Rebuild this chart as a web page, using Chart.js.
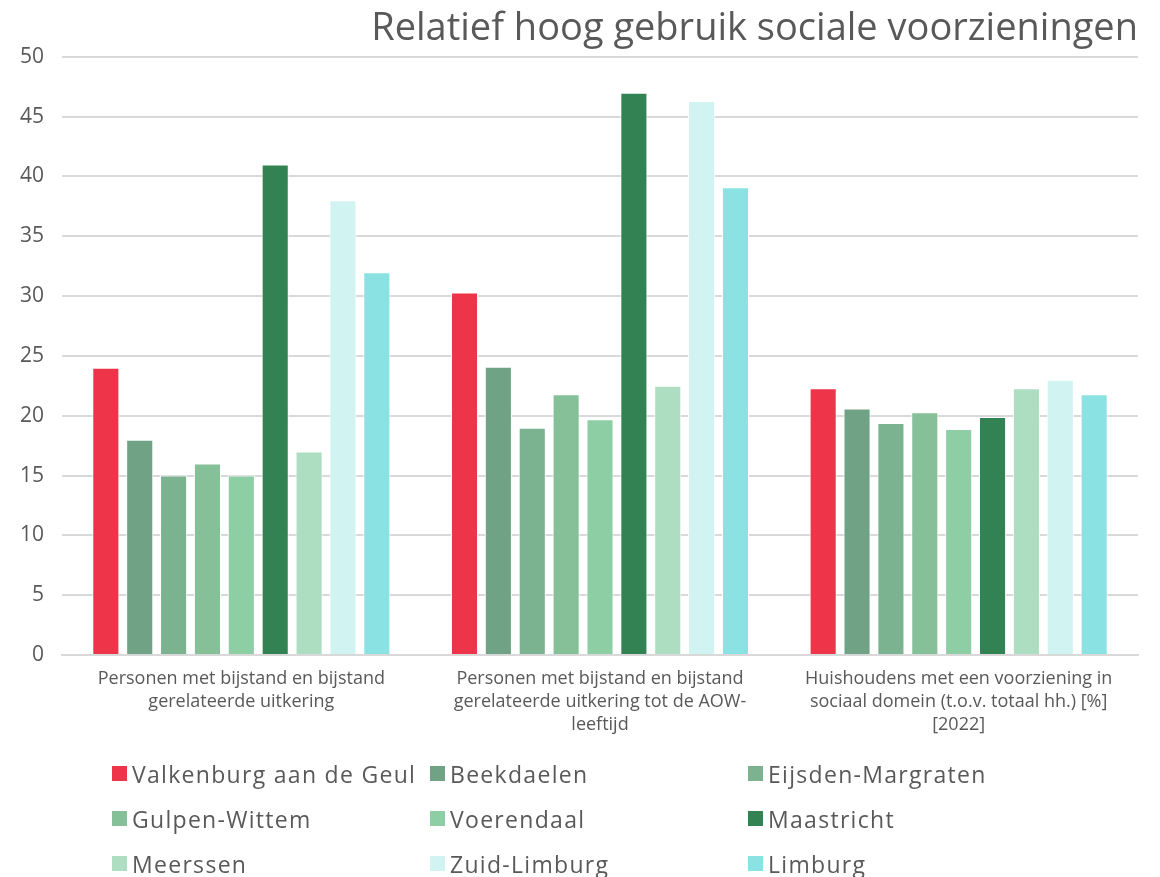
<!DOCTYPE html>
<html>
<head>
<meta charset="utf-8">
<script src="https://cdn.jsdelivr.net/npm/chart.js@4"></script>
<style>
  html, body { margin: 0; padding: 0; background: #fff; }
  #wrap { position: relative; width: 1160px; height: 877px; }
  #legend {
    position: absolute; left: 112px; top: 755px;
    display: grid; grid-template-columns: 318px 318px 318px; row-gap: 8px;
    font-family: "Open Sans", sans-serif; font-size: 23px; letter-spacing: 1.3px; color: #595959;
  }
  #legend div { display: flex; align-items: center; height: 37px; white-space: nowrap; }
  #legend span.box { display: inline-block; width: 15px; height: 15px; margin-right: 5px; }
</style>
</head>
<body>
<div id="wrap">
  <canvas id="chart" width="1160" height="877"></canvas>
  <div id="legend"></div>
</div>
<script>
const categories = [
  ['Personen met bijstand en bijstand', 'gerelateerde uitkering'],
  ['Personen met bijstand en bijstand', 'gerelateerde uitkering tot de AOW-', 'leeftijd'],
  ['Huishoudens met een voorziening in', 'sociaal domein (t.o.v. totaal hh.) [%]', '[2022]']
];
const regions = ['Valkenburg aan de Geul', 'Beekdaelen', 'Eijsden-Margraten', 'Gulpen-Wittem',
  'Voerendaal', 'Maastricht', 'Meerssen', 'Zuid-Limburg', 'Limburg'];
const colors = ['#EE3448', '#70A385', '#7BB391', '#85C099', '#8ECEA5', '#338253', '#AEDEC1', '#D1F3F2', '#8BE2E3'];

// values per category, in region order
const bijstand = [24, 18, 15, 16, 15, 41, 17, 38, 32];
const bijstandAow = [30.3, 24.1, 19, 21.8, 19.7, 47, 22.5, 46.3, 39.1];
const huishoudens = [22.3, 20.6, 19.4, 20.3, 18.9, 19.9, 22.3, 23, 21.8];

const yTicks = { min: 0, max: 50, step: 5 };

const datasets = regions.map((name, i) => ({
  label: name,
  data: [bijstand[i], bijstandAow[i], huishoudens[i]],
  backgroundColor: colors[i],
  borderColor: '#ffffff',
  borderWidth: 1,
  categoryPercentage: 0.85,
  barPercentage: 0.8
}));

new Chart(document.getElementById('chart'), {
  type: 'bar',
  data: { labels: categories, datasets },
  options: {
    responsive: false,
    animation: false,
    layout: { padding: { left: 0, right: 22, top: 0, bottom: 132 } },
    scales: {
      x: {
        grid: { display: false },
        border: { color: '#d9d9d9', width: 2 },
        ticks: {
          color: '#595959', padding: 4,
          font: { family: 'Open Sans', size: 18, lineHeight: 1.28 },
          maxRotation: 0, autoSkip: false
        },
        afterFit: s => { s.height = 90; }
      },
      y: {
        min: yTicks.min, max: yTicks.max,
        grid: { color: '#d9d9d9', lineWidth: 2, drawTicks: false },
        border: { display: false },
        ticks: {
          stepSize: yTicks.step, color: '#595959', padding: 18,
          font: { family: 'Open Sans', size: 21 }
        },
        afterFit: s => { s.width = 62; }
      }
    },
    plugins: {
      legend: { display: false },
      tooltip: { enabled: false },
      title: {
        display: true,
        text: 'Relatief hoog gebruik sociale voorzieningen',
        align: 'end',
        color: '#595959',
        font: { family: 'Open Sans', size: 38, weight: 'normal', lineHeight: 1.1 },
        padding: { top: 8, bottom: 7 }
      }
    }
  }
});

const legend = document.getElementById('legend');
regions.forEach((name, i) => {
  const d = document.createElement('div');
  d.innerHTML = '<span class="box" style="background:' + colors[i] + '"></span>' + name;
  legend.appendChild(d);
});
</script>
</body>
</html>
